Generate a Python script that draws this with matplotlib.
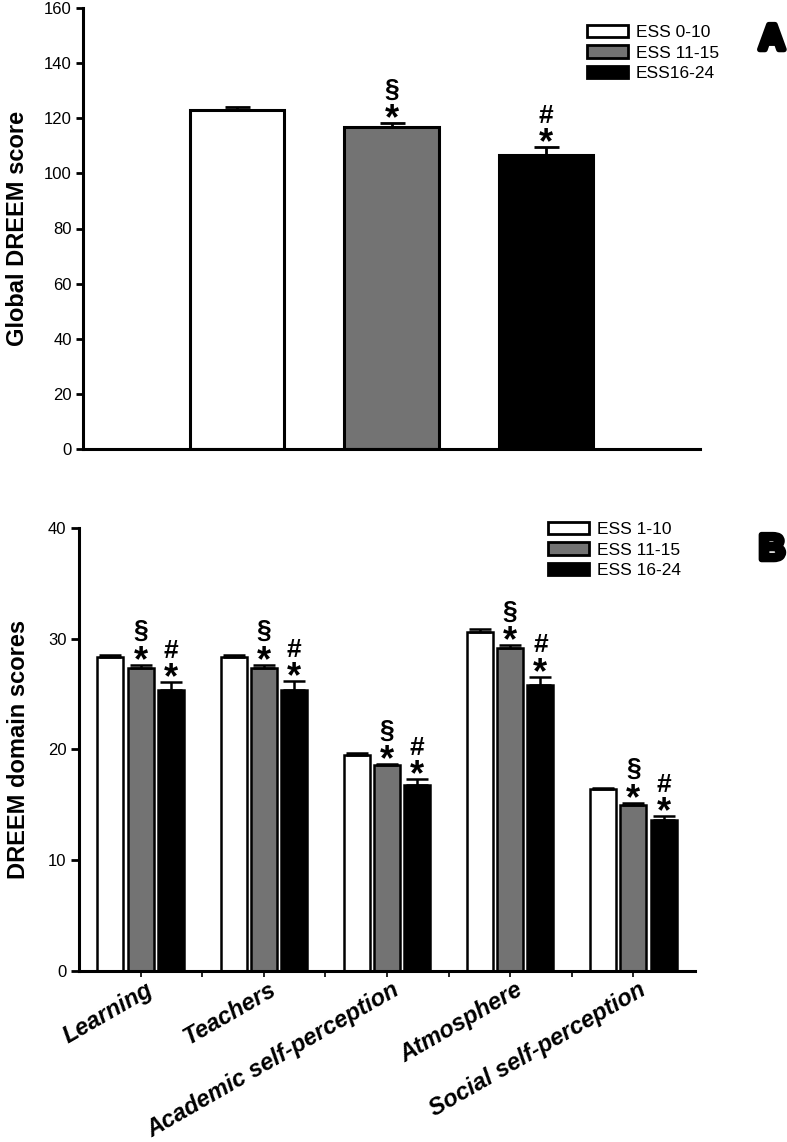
import matplotlib
matplotlib.use('Agg')
import matplotlib.pyplot as plt
import matplotlib.patheffects as pe
import matplotlib.transforms as mtransforms
from matplotlib.patches import Patch
import numpy as np

plt.rcParams['font.family'] = ['Liberation Sans', 'DejaVu Sans']

# panel A data
groups_A = ['ESS 0-10', 'ESS 11-15', 'ESS16-24']
global_mean = [123.0, 117.0, 106.8]
global_se = [1.0, 1.2, 2.7]
marks_A = ['', '§', '#']

# panel B data
domains = ['Learning', 'Teachers', 'Academic self-perception', 'Atmosphere', 'Social self-perception']
groups_B = ['ESS 1-10', 'ESS 11-15', 'ESS 16-24']
ess_low = [28.3, 28.3, 19.5, 30.6, 16.4]
ess_low_se = [0.25, 0.25, 0.18, 0.3, 0.15]
ess_mid = [27.3, 27.35, 18.55, 29.1, 15.0]
ess_mid_se = [0.35, 0.3, 0.15, 0.33, 0.2]
ess_high = [25.35, 25.4, 16.8, 25.8, 13.6]
ess_high_se = [0.72, 0.78, 0.5, 0.75, 0.35]
marks_B = ['', '§', '#']

colors = ['white', '#737373', 'black']

W, H = 787, 1142
fig = plt.figure(figsize=(W / 100, H / 100), dpi=100)


def px_axes(l, t, r, b):
    return fig.add_axes([l / W, 1 - b / H, (r - l) / W, (b - t) / H])


def style_axes(ax, lw):
    ax.spines['top'].set_visible(False)
    ax.spines['right'].set_visible(False)
    ax.spines['left'].set_linewidth(lw)
    ax.spines['bottom'].set_linewidth(lw)


def mark_bar(ax, x, top, sym):
    # asterisk just over the cap, the other sign above it
    ax.annotate('*', (x, top), xytext=(0, -4.5), textcoords='offset points',
                ha='center', va='baseline', fontsize=26, fontweight='bold', zorder=4)
    off = 19 if sym == '§' else 17.5
    ax.annotate(sym, (x, top), xytext=(0, off), textcoords='offset points',
                ha='center', va='baseline', fontsize=19, fontweight='bold', zorder=4)


def make_legend(ax, labels, top_px):
    handles = [Patch(facecolor=c, edgecolor='black', linewidth=2) for c in colors]
    ax.legend(handles, labels, loc='upper left', bbox_to_anchor=(top_px[0] / W, 1 - top_px[1] / H),
              bbox_transform=fig.transFigure, frameon=False, fontsize=12.5, handlelength=2.35,
              handleheight=0.7, handletextpad=0.45, labelspacing=0.3, borderpad=0, borderaxespad=0)


# ---------------- panel A ----------------
axA = px_axes(83, 8, 700, 449)
xA = np.arange(1, 4)
axA.bar(xA, global_mean, width=0.61, color=colors, edgecolor='black', linewidth=2.2, zorder=2)
axA.errorbar(xA, global_mean, yerr=[np.zeros(3), global_se], fmt='none', ecolor='black',
             elinewidth=2, capsize=9, capthick=2, zorder=3)
for i in range(1, 3):
    mark_bar(axA, xA[i], global_mean[i] + global_se[i], marks_A[i])
axA.set_xlim(0, 4)
axA.set_ylim(0, 160)
axA.set_yticks(range(0, 161, 20))
axA.set_xticks([])
style_axes(axA, 2.2)
axA.tick_params(axis='y', direction='out', length=5, width=2, labelsize=12, pad=3)
axA.set_ylabel('Global DREEM score', fontsize=17, fontweight='bold')
axA.yaxis.set_label_coords(-0.087, 0.5)
make_legend(axA, groups_A, (587, 25))

# ---------------- panel B ----------------
axB = px_axes(79, 527.7, 695, 971)
xB = np.arange(len(domains))
step = 0.245
series = [(ess_low, ess_low_se), (ess_mid, ess_mid_se), (ess_high, ess_high_se)]
for k, (vals, se) in enumerate(series):
    xs = xB + (k - 1) * step
    axB.bar(xs, vals, width=0.21, color=colors[k], edgecolor='black', linewidth=1.8, zorder=2)
    axB.errorbar(xs, vals, yerr=[np.zeros(len(vals)), se], fmt='none', ecolor='black',
                 elinewidth=1.8, capsize=8, capthick=1.8, zorder=3)
    if k > 0:
        for j in range(len(vals)):
            mark_bar(axB, xs[j], vals[j] + se[j], marks_B[k])
axB.set_xlim(-0.5, 4.5)
axB.set_ylim(0, 40)
axB.set_yticks(range(0, 41, 10))
axB.set_xticks(xB)
axB.set_xticks(xB[:-1] + 0.5, minor=True)
style_axes(axB, 2.2)
axB.tick_params(axis='y', direction='out', length=6, width=2, labelsize=12, pad=3)
axB.tick_params(axis='x', which='both', direction='out', length=4, width=1.2, pad=1)
axB.set_xticklabels(domains, rotation=30, ha='right', rotation_mode='anchor',
                    fontsize=17, fontweight='bold', fontstyle='italic')
shift = mtransforms.ScaledTranslation(5 / 100, 0, fig.dpi_scale_trans)
for lab in axB.get_xticklabels():
    lab.set_transform(lab.get_transform() + shift)
axB.set_ylabel('DREEM domain scores', fontsize=17, fontweight='bold')
axB.yaxis.set_label_coords(-0.08, 0.5)
make_legend(axB, groups_B, (548, 522))

# panel letters
for letter, yc in [('A', 40), ('B', 550)]:
    fig.text(785 / W, 1 - yc / H, letter, ha='right', va='center', fontsize=26, fontweight='bold',
             path_effects=[pe.withStroke(linewidth=4, foreground='black')])

fig.savefig('out.png', dpi=100)
